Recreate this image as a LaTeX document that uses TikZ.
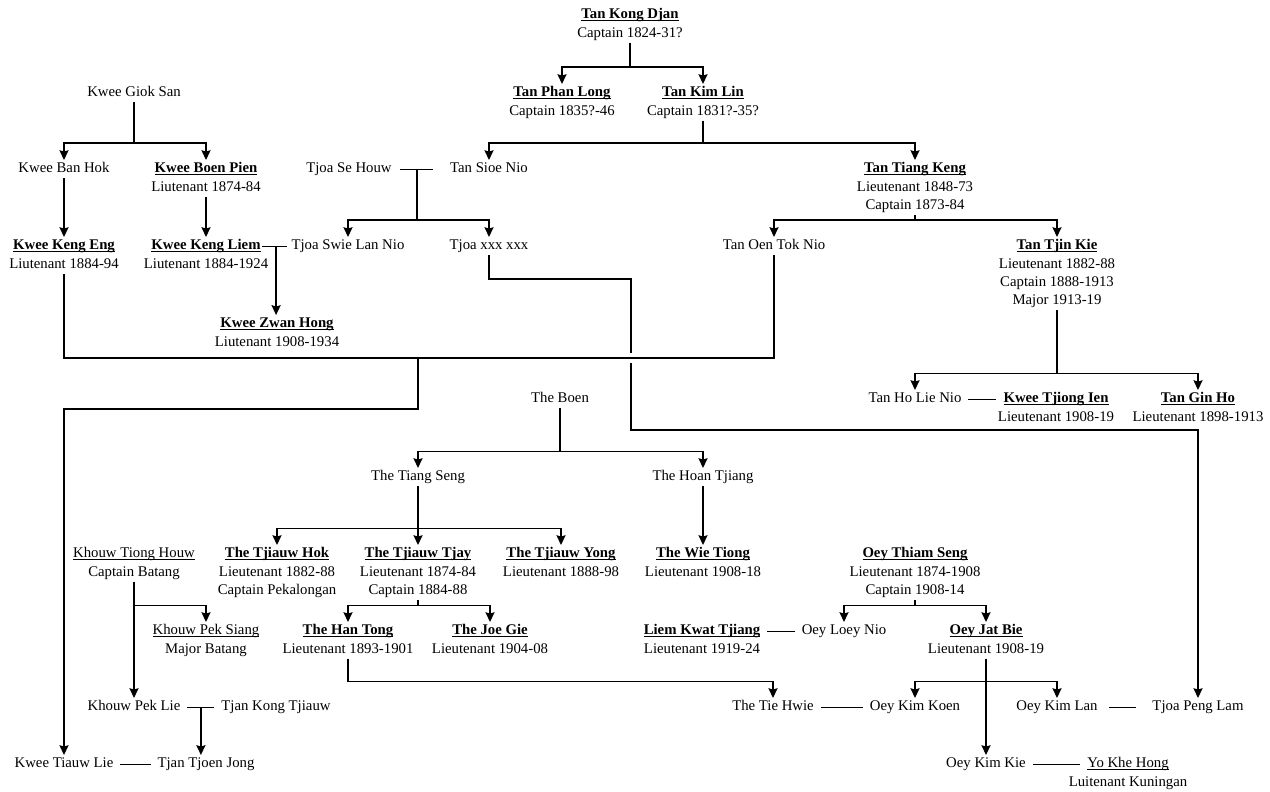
\documentclass[tikz,border=0pt]{standalone}
\usepackage{fontspec}
\setmainfont{Liberation Serif}
\usetikzlibrary{arrows.meta,calc}
\newcommand{\nm}[1]{\underline{\smash{\textbf{#1}}}}
\newcommand{\unm}[1]{\underline{\smash{#1}}}

\begin{document}
\begin{tikzpicture}[
    x=0.025cm, y=-0.025cm,
    person/.style={inner sep=0pt, outer sep=0pt, font=\fontsize{10.5}{13}\selectfont,
        execute at begin node=\strut},
    rank/.style={inner sep=0pt, outer sep=0pt, font=\fontsize{10.5}{13}\selectfont,
        align=center, anchor=north},
    line/.style={draw, line width=0.9pt},
    arr/.style={line, -{Stealth[length=7pt,width=6.5pt,inset=1pt]}},
    wed/.style={line, shorten <=5pt, shorten >=5pt},
  ]
  \useasboundingbox (0,0) rectangle (1270,791);
  % First the names, placed by the top of their line
  \foreach \n/\pos/\txt in {
      TKD/{(630,6)}/{\nm{Tan Kong Djan}},
      TPL/{(562,84)}/{\nm{Tan Phan Long}}, TKL/{(703,84)}/{\nm{Tan Kim Lin}},
      KGS/{(134,84)}/{Kwee Giok San},
      KBH/{(64,160)}/{Kwee Ban Hok}, KBP/{(206,160)}/{\nm{Kwee Boen Pien}},
      TSH/{(349,160)}/{Tjoa Se Houw}, TSN/{(489,160)}/{Tan Sioe Nio},
      TTK/{(915,160)}/{\nm{Tan Tiang Keng}},
      KKE/{(64,237)}/{\nm{Kwee Keng Eng}}, KKL/{(206,237)}/{\nm{Kwee Keng Liem}},
      TSL/{(348,237)}/{Tjoa Swie Lan Nio}, TXX/{(489,237)}/{Tjoa xxx xxx},
      TOT/{(774,237)}/{Tan Oen Tok Nio}, TTJ/{(1057,237)}/{\nm{Tan Tjin Kie}},
      KZH/{(277,315)}/{\nm{Kwee Zwan Hong}},
      TB/{(560,390)}/{The Boen}, THL/{(915,390)}/{Tan Ho Lie Nio},
      KTI/{(1056,390)}/{\nm{Kwee Tjiong Ien}}, TGH/{(1198,390)}/{\nm{Tan Gin Ho}},
      TTS/{(418,468)}/{The Tiang Seng}, THT/{(703,468)}/{The Hoan Tjiang},
      KTH/{(134,545)}/{\unm{Khouw Tiong Houw}}, TJH/{(277,545)}/{\nm{The Tjiauw Hok}},
      TJT/{(418,545)}/{\nm{The Tjiauw Tjay}}, TJY/{(561,545)}/{\nm{The Tjiauw Yong}},
      TWT/{(703,545)}/{\nm{The Wie Tiong}}, OTS/{(915,545)}/{\nm{Oey Thiam Seng}},
      KPS/{(206,622)}/{\unm{Khouw Pek Siang}}, THG/{(348,622)}/{\nm{The Han Tong}},
      TJG/{(490,622)}/{\nm{The Joe Gie}}, LKT/{(702,622)}/{\nm{Liem Kwat Tjiang}},
      OLN/{(844,622)}/{Oey Loey Nio}, OJB/{(986,622)}/{\nm{Oey Jat Bie}},
      KPL/{(134,698)}/{Khouw Pek Lie}, TKT/{(276,698)}/{Tjan Kong Tjiauw},
      TTH/{(773,698)}/{The Tie Hwie}, OKN/{(915,698)}/{Oey Kim Koen},
      OKL/{(1057,698)}/{Oey Kim Lan}, TPM/{(1198,698)}/{Tjoa Peng Lam},
      KTL/{(64,755)}/{Kwee Tiauw Lie}, TJJ/{(206,755)}/{Tjan Tjoen Jong},
      OKK/{(986,755)}/{Oey Kim Kie}, YKH/{(1128,755)}/{\unm{Yo Khe Hong}}}
    \node[person, anchor=north] (\n) at \pos {\txt};
  % ranks under the names
  \foreach \n/\txt in {
      TKD/{Captain 1824-31?}, TPL/{Captain 1835?-46}, TKL/{Captain 1831?-35?},
      KBP/{Liutenant 1874-84}, TTK/{Lieutenant 1848-73\\Captain 1873-84},
      KKE/{Liutenant 1884-94}, KKL/{Liutenant 1884-1924},
      TTJ/{Lieutenant 1882-88\\Captain 1888-1913\\Major 1913-19},
      KZH/{Liutenant 1908-1934}, KTI/{Lieutenant 1908-19}, TGH/{Lieutenant 1898-1913},
      KTH/{Captain Batang}, TJH/{Lieutenant 1882-88\\Captain Pekalongan},
      TJT/{Lieutenant 1874-84\\Captain 1884-88}, TJY/{Lieutenant 1888-98},
      TWT/{Lieutenant 1908-18}, OTS/{Lieutenant 1874-1908\\Captain 1908-14},
      KPS/{Major Batang}, THG/{Lieutenant 1893-1901}, TJG/{Lieutenant 1904-08},
      LKT/{Lieutenant 1919-24}, OJB/{Lieutenant 1908-19}, YKH/{Luitenant Kuningan}}
    \node[rank] (\n r) at (\n.south) {\strut\txt\strut};
  % marriages
  \draw[line, shorten <=6pt, shorten >=12pt] (TSH.east) -- (TSN.west);
  \draw[line, shorten <=1pt, shorten >=3pt] (KKL.east) -- (TSL.west);
  \draw[line, shorten <=8pt, shorten >=12pt] (OKL.east) -- (TPM.west);
  \foreach \a/\b in {THL/KTI, KPL/TKT, KTL/TJJ, TTH/OKN, LKT/OLN, OKK/YKH}
    \draw[wed] (\a.east) -- (\b.west);
  \coordinate (m1) at ($(TSH.east)!.5!(TSN.west)+(-4,0)$);
  \coordinate (m2) at ($(KKL.east)!.5!(TSL.west)$);
  \coordinate (m3) at ($(KPL.east)!.5!(TKT.west)$);
  % children hang from a bar above them
  \foreach \src/\dst in {
      TKDr/TPL, TKDr/TKL, KGS/KBH, KGS/KBP, TKLr/TSN, TKLr/TTK,
      TTKr/TOT, TTKr/TTJ, TTJr/THL, TTJr/TGH, TB/TTS, TB/THT,
      TTS/TJH, TTS/TJT, TTS/TJY, TJTr/THG, TJTr/TJG, KTHr/KPS,
      OTSr/OLN, OTSr/OJB, OJBr/OKN, OJBr/OKL, THGr/TTH}
    \draw[arr] (\src.south) |- ([yshift=12pt]\dst.north) -- (\dst.north);
  \foreach \dst in {TSL, TXX}
    \draw[arr] (m1) |- ([yshift=12pt]\dst.north) -- (\dst.north);
  \foreach \src/\dst in {KBH/KKE, KBPr/KKL, THT/TWT, KTHr/KPL, OJBr/OKK}
    \draw[arr] (\src.south) -- (\dst.north);
  \draw[arr] (m2) -- (m2 |- KZH.north);
  \draw[arr] (m3) -- (m3 |- TJJ.north);
  % lines between the families
  \coordinate (j1) at (418,358);
  \coordinate (hop) at (631,358);
  \draw[line] (KKEr.south) |- (j1) -| (TOT.south);
  \draw[arr] (j1) -- ++(0,51) -| (KTL.north);
  \draw[line, shorten >=3.5pt] (TXX.south) |- (631,279) -- (hop);
  \draw[arr, shorten <=3.5pt] (hop) -- (631,430) -| (TPM.north);
\end{tikzpicture}
\end{document}
